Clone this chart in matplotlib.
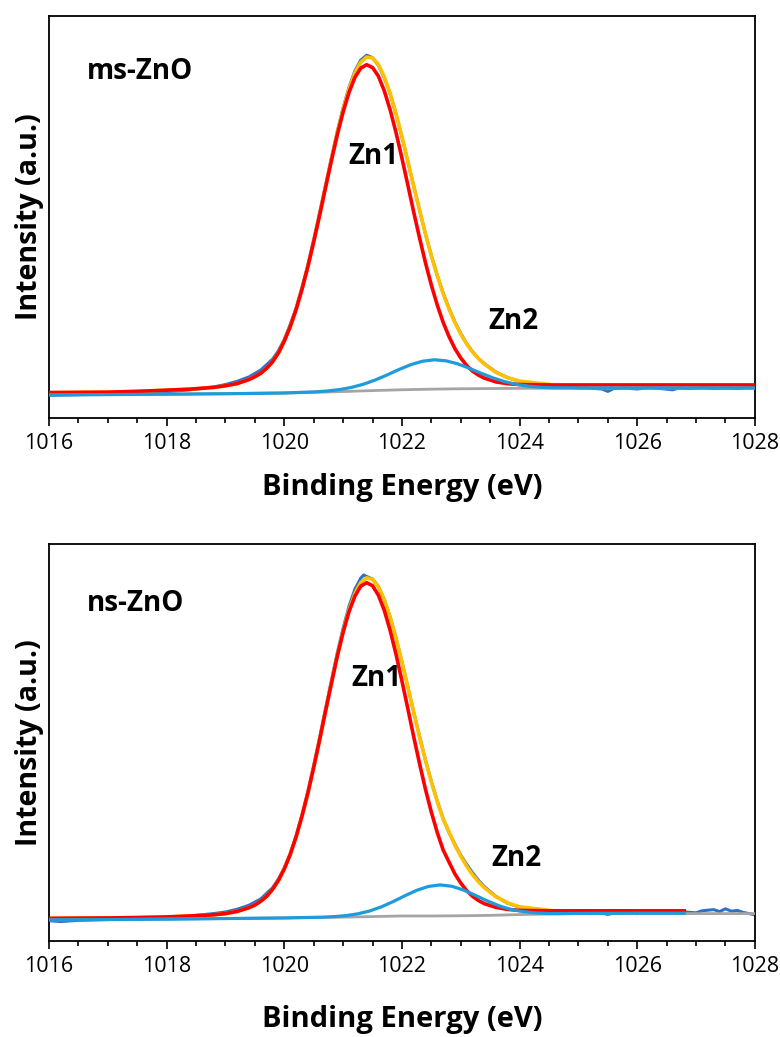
import matplotlib.pyplot as plt
from matplotlib.ticker import MultipleLocator

plt.rcParams['font.family'] = ['Open Sans', 'DejaVu Sans']

# ---- energias (eV) comunes para las curvas de ajuste ----
E_fit = [1016.0, 1016.5, 1017.0, 1017.5, 1018.0, 1018.4, 1018.8, 1019.0, 1019.2,
         1019.4, 1019.5, 1019.6, 1019.7, 1019.8, 1019.9, 1020.0, 1020.1, 1020.2, 1020.3,
         1020.4, 1020.5, 1020.6, 1020.7, 1020.8, 1020.9, 1021.0, 1021.1, 1021.2, 1021.3,
         1021.4, 1021.5, 1021.6, 1021.7, 1021.8, 1021.9, 1022.0, 1022.1, 1022.2, 1022.3,
         1022.4, 1022.5, 1022.6, 1022.7, 1022.8, 1022.9, 1023.0, 1023.1, 1023.2, 1023.3,
         1023.4, 1023.6, 1023.8, 1024.0, 1024.5, 1025.0, 1026.0, 1027.0, 1028.0]

# ---------------- ms-ZnO ----------------
ms_zn1 = [6.3, 6.35, 6.4, 6.6, 6.9, 7.15, 7.6, 8.0, 8.55,
          9.55, 10.25, 11.1, 12.35, 13.95, 16.15, 19.1, 22.65, 26.9, 31.95,
          37.55, 43.8, 50.35, 57.2, 63.9, 70.35, 76.1, 80.95, 84.7, 87.0,
          87.85, 87.15, 85.0, 81.35, 76.6, 70.95, 64.6, 57.95, 51.2, 44.75,
          38.6, 33.05, 28.1, 23.8, 20.25, 17.25, 14.9, 13.05, 11.65, 10.65,
          9.9, 8.95, 8.5, 8.3, 8.2, 8.2, 8.2, 8.2, 8.2]
ms_env = [6.3, 6.35, 6.4, 6.6, 6.9, 7.15, 7.6, 8.0, 8.55,
          9.55, 10.25, 11.1, 12.35, 13.95, 16.16, 19.11, 22.67, 26.93, 31.99,
          37.62, 43.9, 50.5, 57.42, 64.22, 70.8, 76.73, 81.8, 85.84, 88.48,
          89.74, 89.52, 87.91, 84.84, 80.71, 75.69, 69.96, 63.89, 57.64, 51.6,
          45.73, 40.33, 35.38, 30.93, 27.1, 23.69, 20.84, 18.41, 16.39, 14.76,
          13.39, 11.32, 9.98, 9.15, 8.35]

E_zn2_ms = [1016.0, 1017.0, 1018.0, 1019.0, 1020.0, 1020.55, 1020.75, 1020.95, 1021.15,
            1021.35, 1021.55, 1021.75, 1021.95, 1022.15, 1022.35, 1022.55, 1022.75, 1022.95,
            1023.15, 1023.35, 1023.55, 1023.75, 1023.95, 1024.15, 1024.35, 1024.55,
            1025.0, 1026.0, 1027.0, 1028.0]
ms_zn2 = [5.7, 5.8, 5.9, 6.0, 6.2, 6.5, 6.72, 7.07, 7.61,
          8.4, 9.45, 10.7, 12.04, 13.24, 14.1, 14.46, 14.2, 13.44,
          12.33, 11.09, 9.94, 9.01, 8.34, 7.9, 7.64, 7.5,
          7.45, 7.45, 7.45, 7.45]

E_bg = [1016.0, 1018.0, 1020.0, 1020.5, 1021.0, 1021.5, 1022.0, 1022.5, 1023.0,
        1023.5, 1024.0, 1025.0, 1028.0]
ms_bg = [5.7, 5.9, 6.2, 6.35, 6.55, 6.8, 7.0, 7.15, 7.25, 7.3, 7.35, 7.4, 7.4]

E_raw_ms = [1016.0, 1016.2, 1016.5, 1017.0, 1017.5, 1018.0, 1018.4, 1018.8, 1019.0, 1019.2,
            1019.4, 1019.6, 1019.8, 1019.9, 1020.0, 1020.1, 1020.2, 1020.3, 1020.4, 1020.5,
            1020.6, 1020.7, 1020.8, 1020.9, 1021.0, 1021.1, 1021.2, 1021.3, 1021.4, 1021.5,
            1021.6, 1021.7, 1021.8, 1021.9, 1022.0, 1022.1, 1022.2, 1022.3, 1022.4, 1022.5,
            1022.6, 1022.7, 1022.8, 1022.9, 1023.0, 1023.1, 1023.2, 1023.3, 1023.4, 1023.6,
            1023.8, 1024.0, 1024.2, 1024.4, 1024.6, 1024.8, 1025.0, 1025.2, 1025.4, 1025.5,
            1025.6, 1025.8, 1026.0, 1026.2, 1026.4, 1026.6, 1026.7, 1026.9, 1027.1, 1027.3,
            1027.5, 1027.7, 1027.9, 1028.0]
ms_raw = [5.6, 5.7, 5.8, 6.0, 6.2, 6.5, 7.0, 7.7, 8.3, 9.1,
          10.2, 11.9, 14.6, 16.7, 19.5, 23.2, 27.3, 32.4, 38.0, 44.3,
          51.0, 57.8, 64.6, 71.2, 77.1, 82.2, 86.3, 89.0, 90.2, 89.6,
          87.7, 84.6, 80.6, 75.5, 69.9, 63.8, 57.7, 51.7, 45.8, 40.4,
          35.5, 31.1, 27.3, 23.9, 21.0, 18.5, 16.5, 14.8, 13.5, 11.4,
          10.0, 9.1, 8.5, 8.1, 7.8, 7.6, 7.5, 7.4, 7.2, 6.6,
          7.3, 7.4, 7.2, 7.5, 7.3, 7.0, 7.4, 7.3, 7.5, 7.3,
          7.4, 7.3, 7.5, 7.4]

# ---------------- ns-ZnO ----------------
E_fit_ns = E_fit[:56] + [1026.8]
ns_zn1 = [5.7, 5.75, 5.8, 5.9, 6.05, 6.3, 6.6, 6.9, 7.45,
          8.4, 9.05, 10.0, 11.25, 13.0, 15.25, 18.15, 21.75, 26.2, 31.4,
          37.2, 43.7, 50.6, 57.8, 64.8, 71.65, 77.75, 82.95, 86.85, 89.4,
          90.25, 89.5, 87.1, 83.3, 78.2, 72.2, 65.5, 58.55, 51.45, 44.65,
          38.2, 32.45, 27.35, 22.95, 19.9, 16.9, 14.6, 12.7, 11.25, 10.2,
          9.4, 8.45, 7.95, 7.7, 7.6, 7.6, 7.6, 7.6]
ns_env = [5.7, 5.75, 5.8, 5.9, 6.05, 6.3, 6.6, 6.9, 7.45,
          8.4, 9.05, 10.0, 11.25, 13.0, 15.25, 18.15, 21.75, 26.21, 31.41,
          37.22, 43.73, 50.65, 57.89, 64.94, 71.86, 78.06, 83.4, 87.5, 90.3,
          91.48, 91.13, 89.22, 85.98, 81.52, 76.21, 70.23, 64.0, 57.59, 51.4,
          45.44, 40.05, 35.13, 30.73, 27.5, 24.14, 21.35, 18.84, 16.7, 14.93,
          13.41, 11.13, 9.58, 8.6, 7.74]

E_zn2_ns = [1016.0, 1017.0, 1018.0, 1019.0, 1020.0, 1020.65, 1020.85, 1021.05, 1021.25,
            1021.45, 1021.65, 1021.85, 1022.05, 1022.25, 1022.45, 1022.65, 1022.85, 1023.05,
            1023.25, 1023.45, 1023.65, 1023.85, 1024.05, 1024.25, 1024.45, 1024.65,
            1025.0, 1026.0, 1026.8]
ns_zn2 = [5.3, 5.4, 5.5, 5.65, 5.8, 6.0, 6.14, 6.39, 6.84,
          7.55, 8.59, 9.91, 11.39, 12.75, 13.74, 14.12, 13.78, 12.81,
          11.49, 10.1, 8.87, 7.94, 7.43, 7.1, 6.95, 6.91,
          6.95, 7.0, 7.0]

ns_bg = [5.3, 5.5, 5.8, 5.9, 6.0, 6.15, 6.3, 6.3, 6.35, 6.45, 6.65, 6.9, 6.9]

E_raw_ns = [1016.0, 1016.2, 1016.5, 1017.0, 1017.5, 1018.0, 1018.4, 1018.8, 1019.0, 1019.2,
            1019.4, 1019.6, 1019.8, 1019.9, 1020.0, 1020.1, 1020.2, 1020.3, 1020.4, 1020.5,
            1020.6, 1020.7, 1020.8, 1020.9, 1021.0, 1021.1, 1021.2, 1021.3, 1021.35, 1021.4,
            1021.5, 1021.6, 1021.7, 1021.8, 1021.9, 1022.0, 1022.1, 1022.2, 1022.3, 1022.4,
            1022.5, 1022.6, 1022.7, 1022.8, 1022.9, 1023.0, 1023.1, 1023.2, 1023.3, 1023.4,
            1023.6, 1023.8, 1024.0, 1024.2, 1024.4, 1024.6, 1024.8, 1025.0, 1025.2, 1025.4,
            1025.5, 1025.6, 1025.8, 1026.0, 1026.2, 1026.4, 1026.6, 1026.8, 1027.0, 1027.1,
            1027.3, 1027.4, 1027.5, 1027.6, 1027.7, 1027.8, 1027.9, 1028.0]
ns_raw = [5.1, 4.9, 5.2, 5.4, 5.6, 5.8, 6.3, 6.9, 7.3, 8.0,
          9.0, 10.6, 13.4, 15.6, 18.4, 22.0, 26.4, 31.7, 37.6, 44.2,
          51.2, 58.4, 65.5, 72.5, 78.8, 84.3, 88.6, 91.4, 92.2, 91.8,
          91.2, 89.3, 86.0, 81.6, 76.3, 70.3, 64.0, 57.7, 51.5, 45.6,
          40.2, 35.3, 30.9, 27.3, 24.4, 21.6, 19.3, 17.2, 15.3, 13.7,
          11.2, 9.5, 8.5, 7.9, 7.5, 7.3, 7.2, 7.1, 6.9, 7.0,
          6.7, 7.0, 7.1, 6.9, 7.1, 7.0, 7.2, 7.3, 7.1, 7.6,
          7.9, 7.4, 8.1, 7.5, 7.7, 7.2, 6.9, 6.6]

paneles = [
    dict(nombre='ms-ZnO', raw=(E_raw_ms, ms_raw), env=(E_fit[:54], ms_env),
         zn1=(E_fit, ms_zn1), zn2=(E_zn2_ms, ms_zn2), bg=(E_bg, ms_bg),
         rect=[0.0628, 0.597, 0.905, 0.3877], t_zn1=(1021.52, 64.9), t_zn2=(1023.9, 23.9),
         t_nom=(1016.65, 86.1), xl=-0.172),
    dict(nombre='ns-ZnO', raw=(E_raw_ns, ns_raw), env=(E_fit[:54], ns_env),
         zn1=(E_fit_ns, ns_zn1), zn2=(E_zn2_ns, ns_zn2), bg=(E_bg, ns_bg),
         rect=[0.0628, 0.0926, 0.905, 0.3828], t_zn1=(1021.56, 66.2), t_zn2=(1023.94, 20.9),
         t_nom=(1016.65, 85.1), xl=-0.199),
]

fig = plt.figure(figsize=(7.8, 10.37), dpi=100)

for p in paneles:
    ax = fig.add_axes(p['rect'])
    ax.plot(*p['raw'], color='#2B72C8', lw=2.2, zorder=1)
    ax.plot(*p['env'], color='#FFC000', lw=2.6, zorder=2)
    ax.plot(*p['zn1'], color='#FF0000', lw=2.6, zorder=3)
    ax.plot(*p['bg'], color='#A5A5A5', lw=2.0, zorder=4)
    ax.plot(*p['zn2'], color='#1E9BDB', lw=2.3, zorder=5)

    ax.set_xlim(1016, 1028)
    ax.set_ylim(0, 100)
    ax.set_yticks([])
    ax.xaxis.set_major_locator(MultipleLocator(2))
    ax.xaxis.set_minor_locator(MultipleLocator(0.5))
    ax.tick_params(axis='x', which='major', direction='out', length=6, width=1.2,
                   labelsize=15.5, pad=5, colors='black')
    ax.tick_params(axis='x', which='minor', direction='out', length=3.5, width=1.2)
    for s in ax.spines.values():
        s.set_linewidth(1.3)

    ax.set_xlabel('Binding Energy (eV)', fontsize=21, fontweight='bold')
    ax.xaxis.set_label_coords(0.5, p['xl'])
    ax.xaxis.label.set_va('center')
    ax.set_ylabel('Intensity (a.u.)', fontsize=20.5, fontweight='bold')
    ax.yaxis.set_label_coords(-0.027, 0.5)
    ax.yaxis.label.set_va('center')

    ax.text(*p['t_nom'], p['nombre'], fontsize=20, fontweight='bold', ha='left', va='center')
    ax.text(*p['t_zn1'], 'Zn1', fontsize=20, fontweight='bold', ha='center', va='center')
    ax.text(*p['t_zn2'], 'Zn2', fontsize=20, fontweight='bold', ha='center', va='center')

fig.savefig('out.png', dpi=100)
